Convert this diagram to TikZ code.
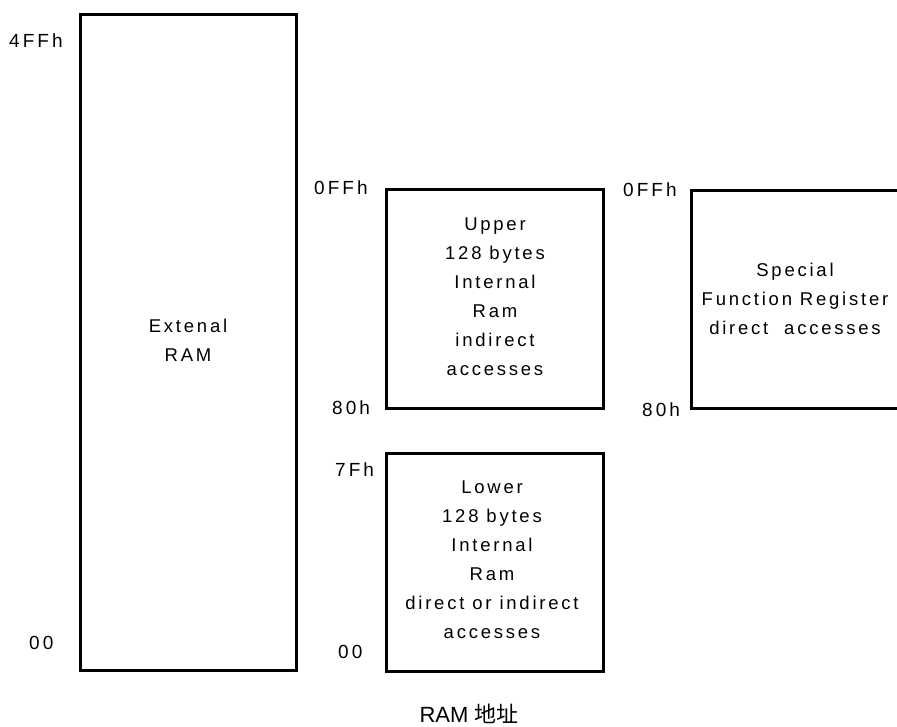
\documentclass[tikz,border=0pt]{standalone}
\usepackage{fontspec}
\setmainfont{Liberation Sans}
\newfontfamily\spaced[LetterSpace=15]{Liberation Sans}
\newfontfamily\addrfont[LetterSpace=16]{Liberation Sans}
\newfontfamily\cjk{Noto Sans CJK SC}
\begin{document}
\begin{tikzpicture}[x=1pt,y=-1pt,
  membox/.style={draw, line width=3pt, inner sep=0pt},
  boxtext/.style={align=center, font=\spaced\fontsize{18.5}{29}\selectfont, inner sep=0pt},
  addr/.style={font=\addrfont\fontsize{19}{21}\selectfont, inner sep=0pt, anchor=west}]
\useasboundingbox (0,0) rectangle (897,726);
% External RAM
\node[membox, minimum width=216pt, minimum height=656pt] (ext) at (188,342) {};
\node[boxtext] (extt) at (188,340) {Extenal\\RAM};
\node[addr] (a4ff) at (9,41) {4FFh};
\node[addr] (a00a) at (29,643) {00};
% Upper
\node[membox, minimum width=217pt, minimum height=219pt] (up) at (494.5,298.5) {};
\node[boxtext] (upt) at (495,297) {Upper\\128 bytes\\Internal\\Ram\\indirect\\accesses};
\node[addr] (a0ffa) at (314,188) {0FFh};
\node[addr] (a80a) at (332,408) {80h};
% Lower
\node[membox, minimum width=217pt, minimum height=218pt] (low) at (494.5,562) {};
\node[boxtext] (lowt) at (492,560) {Lower\\128 bytes\\Internal\\Ram\\direct or indirect\\accesses};
\node[addr] (a7f) at (335,470) {7Fh};
\node[addr] (a00b) at (338,652) {00};
% SFR (open on the right)
\coordinate (s1) at (900,190);
\coordinate (s2) at (691,190);
\coordinate (s3) at (691,408);
\coordinate (s4) at (900,408);
\draw[line width=3pt] (s1) -- (s2) -- (s3) -- (s4);
\node[boxtext] (sfrt) at (795,299) {Special\\Function Register\\direct\ \ accesses};
\node[addr] (a0ffb) at (623,190) {0FFh};
\node[addr] (a80b) at (642,410) {80h};
% caption
\node[font=\fontsize{22}{24}\selectfont, inner sep=0pt] (cap) at (469,714) {RAM {\cjk 地址}};
\end{tikzpicture}
\end{document}
